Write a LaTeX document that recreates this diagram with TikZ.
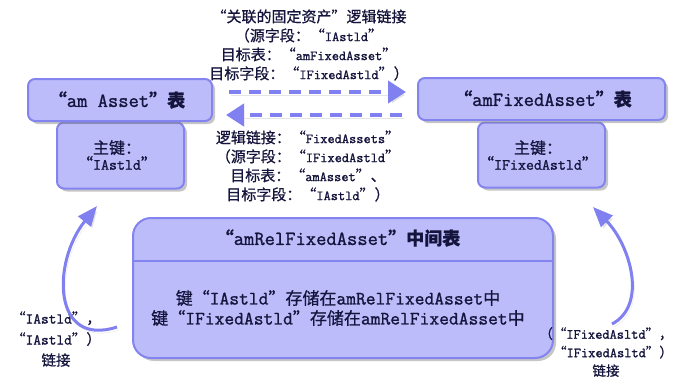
\documentclass[tikz,border=0pt]{standalone}
\usepackage{fontspec}
\setmainfont{Latin Modern Mono}[FakeBold=1.2]
\newfontfamily\cjk{Noto Sans CJK SC}[RawFeature=+fwid, FakeBold=0.8]
\usetikzlibrary{arrows.meta,shadows}
\def\cjksz{15pt}
\newcommand\zhs[1]{{\cjk\fontsize{\cjksz}{\cjksz}\selectfont #1}}
\definecolor{boxfill}{RGB}{188,188,250}
\definecolor{boxline}{RGB}{132,132,240}
\definecolor{arrowc}{RGB}{128,128,240}
\definecolor{ink}{RGB}{20,20,60}
\tikzset{
  tbox/.style={draw=boxline, line width=2pt, fill=boxfill, rounded corners=7pt,
    drop shadow={shadow xshift=3pt, shadow yshift=-3pt, fill=gray, opacity=0.45}, inner sep=0pt},
  hdrtext/.style={text=ink, font={\bfseries\fontsize{20}{22}\selectfont\def\cjksz{18pt}}},
  keytext/.style={text=ink, align=center, font={\fontsize{15.5}{17}\selectfont\def\cjksz{16pt}}},
  note/.style={text=ink, align=center, font={\fontsize{14}{19}\selectfont\def\cjksz{15pt}}},
  dasharrow/.style={draw=arrowc, line width=4pt, dash pattern=on 12pt off 8pt,
    -{Triangle[width=22pt,length=18pt]},
    preaction={draw=gray!40, opacity=0.5, transform canvas={shift={(2pt,-3pt)}}}},
  curvearrow/.style={draw=arrowc, line width=3pt, -{Triangle[width=16pt,length=20pt]},
    preaction={draw=gray!40, opacity=0.5, transform canvas={shift={(2pt,-3pt)}}}},
}
\begin{document}
\begin{tikzpicture}[x=1pt,y=-1pt]
\useasboundingbox (0,0) rectangle (674,376);
% left table
\node[tbox, minimum width=127pt, minimum height=66pt] (lkey) at (120.5,155.5) {};
\node[keytext] (lkeyt) at (117,155) {\zhs{主键：}\\[-1pt]\zhs{“}IAstld\zhs{”}};
\node[tbox, minimum width=184pt, minimum height=42pt] (lhdr) at (120,100) {};
\node[hdrtext] (lhdrt) at (117,100) {\zhs{“}am Asset\zhs{”表}};
% right table
\node[tbox, minimum width=127pt, minimum height=65pt] (rkey) at (541.5,155) {};
\node[keytext] (rkeyt) at (538,155) {\zhs{主键：}\\[-1pt]\zhs{“}IFixedAstld\zhs{”}};
\node[tbox, minimum width=247pt, minimum height=42pt] (rhdr) at (541.5,99) {};
\node[hdrtext] (rhdrt) at (543,99) {\zhs{“}amFixedAsset\zhs{”表}};
% middle table
\node[tbox, rounded corners=18pt, minimum width=420pt, minimum height=140pt] (rel) at (343,288) {};
\draw[boxline, line width=1.5pt] ([yshift=-44pt]rel.north west) coordinate (hl) -- ([yshift=-44pt]rel.north east) coordinate (hr);
\node[hdrtext] (relt) at (338,238) {\zhs{“}amRelFixedAsset\zhs{”中间表}};
\node[text=ink, align=center, font={\fontsize{19}{20}\selectfont\def\cjksz{17pt}}] (relb) at (338,308)
  {\zhs{键“}IAstld\zhs{”存储在}amRelFixedAsset\zhs{中}\\
   \zhs{键“}IFixedAstld\zhs{”存储在}amRelFixedAsset\zhs{中}};
% link texts
\node[note] (ntop) at (309,45) {\zhs{“关联的固定资产”逻辑链接}\\
  \zhs{（源字段：“}IAstld\zhs{”}\\
  \zhs{目标表：“}amFixedAsset\zhs{”}\\
  \zhs{目标字段：“}IFixedAstld\zhs{”）}};
\node[note] (nbot) at (308,166) {\zhs{逻辑链接：“}FixedAssets\zhs{”}\\
  \zhs{（源字段：“}IFixedAstld\zhs{”}\\
  \zhs{目标表：“}amAsset\zhs{”、}\\
  \zhs{目标字段：“}IAstld\zhs{”）}};
% arrows between tables
\draw[dasharrow, shorten <=16pt, shorten >=11pt] ([yshift=8pt]lhdr.east) -- ([yshift=7pt]rhdr.west);
\draw[dasharrow, shorten <=15pt, shorten >=13pt] ([yshift=-16pt]rhdr.west) -- ([yshift=-15pt]lhdr.east);
% self links
\node[note, font={\fontsize{15}{21}\selectfont\def\cjksz{14.5pt}}] (lnote) at (56,339) {\zhs{“}IAstld\zhs{”，}\\\zhs{“}IAstld\zhs{”）}\\\zhs{链接}};
\node[note, font={\fontsize{14}{18.5}\selectfont\def\cjksz{13.5pt}}] (rnote) at (606,352) {\zhs{（“}IFixedAsltd\zhs{”，}\\\hspace*{14pt}\zhs{“}IFixedAsltd\zhs{”）}\\\zhs{链接}};
\coordinate (ls) at (117,327);
\coordinate (lt) at (97,206);
\coordinate (rs) at (612,324);
\coordinate (rt) at (593,207);
\draw[curvearrow] (ls) .. controls (52,348) and (52,262) .. (lt);
\draw[curvearrow] (rs) .. controls (648,305) and (630,245) .. (rt);
\end{tikzpicture}
\end{document}
